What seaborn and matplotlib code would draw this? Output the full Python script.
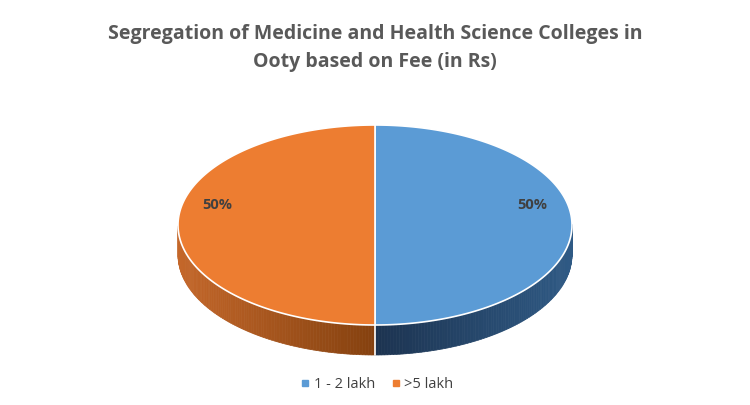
import numpy as np
import matplotlib.pyplot as plt
import seaborn as sns
from matplotlib.patches import Polygon
from matplotlib.colors import to_rgb

sns.set_style("white")
plt.rcParams['font.family'] = ['Open Sans', 'DejaVu Sans']

categories = ["1 - 2 lakh", ">5 lakh"]
shares = [50, 50]
colors = ["#5B9BD5", "#ED7D31"]
side_light = ["#2F5A85", "#C4672A"]
side_dark = ["#1C3350", "#84410F"]

cx, cy, rx, ry, depth = 375, 225, 197, 100, 30

fig = plt.figure(figsize=(7.5, 4.05), dpi=100)
ax = fig.add_axes([0, 0, 1, 1])
ax.set_xlim(0, 750)
ax.set_ylim(405, 0)
ax.axis("off")

def pt(a, dy=0):
    return cx + rx * np.cos(a), cy - ry * np.sin(a) + dy

fracs = np.array(shares) / sum(shares)
start = np.pi / 2
bounds = []
for f in fracs:
    end = start - 2 * np.pi * f
    bounds.append((start, end))
    start = end

# sides (only visible lower half)
for i, (a0, a1) in enumerate(bounds):
    angs = np.linspace(a0, a1, 200)
    for j in range(len(angs) - 1):
        a, b = angs[j], angs[j + 1]
        if np.sin((a + b) / 2) > 0:
            continue
        t = abs(np.cos((a + b) / 2))
        c = np.array(to_rgb(side_dark[i])) * (1 - t) + np.array(to_rgb(side_light[i])) * t
        p = [pt(a), pt(b), pt(b, depth), pt(a, depth)]
        ax.add_patch(Polygon(p, closed=True, fc=c, ec=c, lw=0.5))
x0, y0 = pt(-np.pi / 2)
ax.plot([x0, x0], [y0, y0 + depth], color="white", lw=1.2)

# top faces
for i, (a0, a1) in enumerate(bounds):
    angs = np.linspace(a0, a1, 200)
    p = [(cx, cy)] + [pt(a) for a in angs]
    ax.add_patch(Polygon(p, closed=True, fc=colors[i], ec="white", lw=1.2))
    mid = (a0 + a1) / 2
    lx, ly = cx + rx * 0.8 * np.cos(mid), cy - ry * 0.2
    ax.text(lx, ly, f"{shares[i]}%", ha="center", va="center",
            fontsize=10.5, fontweight="bold", color="#404040")

ax.text(375, 48, "Segregation of Medicine and Health Science Colleges in\nOoty based on Fee (in Rs)",
        ha="center", va="center", fontsize=14, fontweight="bold", color="#595959",
        linespacing=1.6)

handles = [plt.Line2D([], [], marker="s", ls="", color=c, markersize=5) for c in colors]
ax.legend(handles, categories, loc="lower center", bbox_to_anchor=(0.5, 0.0), ncol=2,
          frameon=False, fontsize=10.5, handletextpad=0.0, columnspacing=0.8,
          handlelength=1.2, labelcolor="#404040")

fig.savefig("out.png", dpi=100)
